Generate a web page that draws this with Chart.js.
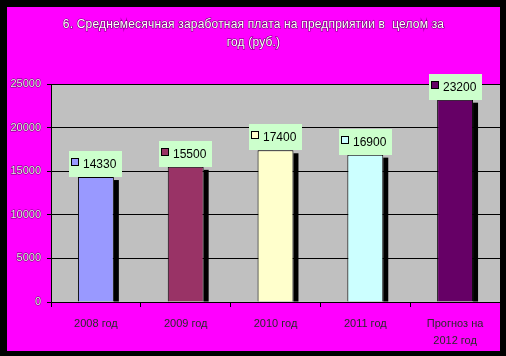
<!DOCTYPE html>
<html>
<head>
<meta charset="utf-8">
<script src="https://cdn.jsdelivr.net/npm/chart.js@4"></script>
<style>
html,body{margin:0;padding:0;background:#000;}
canvas{display:block;}
</style>
</head>
<body>
<canvas id="c" width="506" height="356"></canvas>
<script>
const titleLines = ['6. Среднемесячная заработная плата на предприятии в  целом за', 'год (руб.)'];
const categories = ['2008 год', '2009 год', '2010 год', '2011 год', ['Прогноз на', '2012 год']];
const values = [14330, 15500, 17400, 16900, 23200];
const barColors = ['#9999FF', '#993366', '#FFFFCC', '#CCFFFF', '#660066'];
const yTicks = [0, 5000, 10000, 15000, 20000, 25000];

const FONT = '"Liberation Sans", Arial, sans-serif';

const framePlugin = {
  id: 'frame',
  beforeDraw(chart) {
    const ctx = chart.ctx, a = chart.chartArea;
    ctx.save();
    ctx.fillStyle = '#000';
    ctx.fillRect(0, 0, chart.width, chart.height);
    ctx.fillStyle = '#FF00FF';
    ctx.fillRect(7, 7, 493, 344);
    ctx.fillStyle = '#C0C0C0';
    ctx.fillRect(a.left, a.top, a.right - a.left, a.bottom - a.top);
    // title
    ctx.font = '12px ' + FONT;
    ctx.textAlign = 'center';
    ctx.textBaseline = 'middle';
    const ys = [25, 43];
    const target = 381;
    const w0 = ctx.measureText(titleLines[0]).width;
    const ls = Math.max(0, (target - w0) / (titleLines[0].length - 1));
    ctx.letterSpacing = ls.toFixed(2) + 'px';
    titleLines.forEach((t, i) => {
      ctx.lineWidth = 1.2;
      ctx.strokeStyle = 'rgba(0,0,0,0.55)';
      ctx.strokeText(t, 253.5, ys[i]);
      ctx.fillStyle = '#FFFFFF';
      ctx.fillText(t, 253.5, ys[i]);
    });
    ctx.restore();
  },
  beforeDatasetsDraw(chart) {
    const ctx = chart.ctx;
    const meta = chart.getDatasetMeta(0);
    ctx.save();
    ctx.fillStyle = '#000';
    meta.data.forEach(bar => {
      const r = bar.x + bar.width / 2;
      const top = bar.y + 3;
      ctx.fillRect(r, top, 5, bar.base - top);
    });
    ctx.restore();
  },
  afterDatasetsDraw(chart) {
    const ctx = chart.ctx;
    const meta = chart.getDatasetMeta(0);
    ctx.save();
    ctx.font = '12px ' + FONT;
    ctx.textBaseline = 'middle';
    ctx.textAlign = 'left';
    meta.data.forEach((bar, i) => {
      const bw = 53, bh = 26;
      const left = Math.round(bar.x - bw / 2);
      const top = Math.round(bar.y - bh);
      ctx.fillStyle = '#CCFFCC';
      ctx.fillRect(left, top, bw, bh);
      ctx.fillStyle = barColors[i];
      ctx.fillRect(left + 2.5, top + 7.5, 7, 7);
      ctx.strokeStyle = '#000';
      ctx.lineWidth = 1;
      ctx.strokeRect(left + 2.5, top + 7.5, 7, 7);
      ctx.fillStyle = '#000';
      ctx.fillText(String(values[i]), left + 14, top + 13.5);
    });
    ctx.restore();
  }
};

new Chart(document.getElementById('c'), {
  type: 'bar',
  data: {
    labels: categories,
    datasets: [{
      data: values,
      backgroundColor: barColors,
      borderColor: '#000',
      borderWidth: 1,
      borderSkipped: 'bottom',
      barPercentage: 0.8,
      categoryPercentage: 0.5
    }]
  },
  options: {
    responsive: false,
    animation: false,
    devicePixelRatio: 1,
    layout: { padding: { left: 0, top: 84, right: 6, bottom: 0 } },
    plugins: {
      legend: { display: false },
      title: { display: false },
      tooltip: { enabled: false }
    },
    scales: {
      y: {
        min: 0,
        max: 25000,
        afterBuildTicks(scale) { scale.ticks = yTicks.map(v => ({ value: v })); },
        afterFit(scale) { scale.width = 51; },
        grid: { color: '#000', lineWidth: 1, tickLength: 4, tickColor: '#000' },
        border: { display: true, color: '#000', width: 1 },
        ticks: {
          color: '#E8E8E8',
          textStrokeColor: 'rgba(0,0,0,0.6)',
          textStrokeWidth: 1,
          font: { family: FONT, size: 11 },
          padding: 6,
          callback: (v) => String(v)
        }
      },
      x: {
        afterFit(scale) { scale.height = 54; },
        grid: { offset: true, drawOnChartArea: false, drawTicks: true, tickLength: 5, color: '#000' },
        border: { display: true, color: '#000', width: 1 },
        ticks: {
          color: '#2a2a2a',
          font: { family: FONT, size: 11, lineHeight: 1.5 },
          padding: 9,
          maxRotation: 0,
          autoSkip: false
        }
      }
    }
  },
  plugins: [framePlugin]
});
</script>
</body>
</html>
